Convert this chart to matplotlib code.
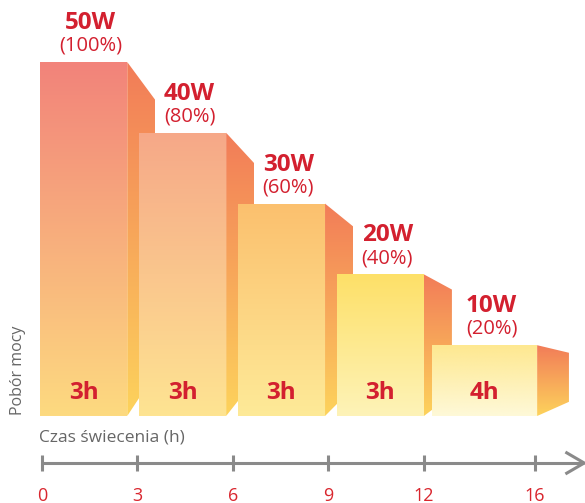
import numpy as np
import matplotlib
matplotlib.use("Agg")
import matplotlib.pyplot as plt
from matplotlib.patches import Polygon
from matplotlib.colors import to_rgb

# data
power = [50, 40, 30, 20, 10]          # W
percent = [100, 80, 60, 40, 20]       # %
hours = [3, 3, 3, 3, 4]               # lighting time per step
tick_hours = [0, 3, 6, 9, 12, 16]

front_top = ["#F2837A", "#F6A888", "#FBC06E", "#FDE068", "#FEE890"]
front_bot = ["#FDDA80", "#FEE492", "#FEEA98", "#FEF3B8", "#FEF9D8"]
side_top = "#F27C58"
side_bot = "#FDD35C"
red = "#D3202F"
gray = "#8A8A8A"

plt.rcParams["font.family"] = ["Open Sans", "DejaVu Sans"]


def xpos(h):
    # the last step is drawn slightly compressed in the original
    return h if h <= 12 else 12 + (h - 12) * 0.875


fig = plt.figure(figsize=(5.85, 5.03), dpi=100)
ax = fig.add_axes([0, 0, 1, 1])
ax.set_xlim(-1.321, 17.075)
ax.set_ylim(-12.29, 58.76)
ax.axis("off")


def grad_poly(pts, c_top, c_bot, z):
    poly = Polygon(pts, closed=True, facecolor="none", edgecolor="none", zorder=z)
    ax.add_patch(poly)
    xs = [p[0] for p in pts]
    ys = [p[1] for p in pts]
    t = np.linspace(0, 1, 256)[:, None]
    top = np.array(to_rgb(c_top))
    bot = np.array(to_rgb(c_bot))
    img = (top * (1 - t) + bot * t)[:, None, :]
    im = ax.imshow(img, extent=[min(xs), max(xs), min(ys), max(ys)],
                   aspect="auto", origin="upper", zorder=z, interpolation="bilinear")
    im.set_clip_path(poly)


for i, (w, p, d) in enumerate(zip(power, percent, hours)):
    # blocks sit on a slightly wider pitch than the time ticks
    x0 = -0.06 + 3.11 * i - (0.12 if i == 4 else 0)
    x1 = x0 + 2.74 + 0.57 * (d - 3)
    depth = 0.88 if i < 4 else 1.0
    z = 2 + i * 2
    grad_poly([(x0, 0), (x0, w), (x1, w), (x1, 0)], front_top[i], front_bot[i], z)
    grad_poly([(x1, w), (x1 + depth, w * 0.893), (x1 + depth, 1.0 + 0.1 * w), (x1, 0)],
              side_top, side_bot, z + 1)

    cx = (x0 + x1) / 2
    ax.text(cx + 0.22, w + 5.5, f"{w}W", color=red, fontsize=17.5, fontweight="bold",
            ha="center", va="center", zorder=20)
    ax.text(cx + 0.22, w + 2.3, f"({p}%)", color=red, fontsize=14.5,
            ha="center", va="center", zorder=20)
    ax.text(cx, 3.25, f"{d}h", color=red, fontsize=17.5, fontweight="bold",
            ha="center", va="center", zorder=20)

# time axis with open arrow
ax.plot([0, 17.05], [-6.64, -6.64], color=gray, lw=2.2, solid_capstyle="butt", zorder=1)
ax.plot([16.5, 17.05, 16.5], [-5.2, -6.64, -8.08], color=gray, lw=2.2,
        solid_joinstyle="miter", zorder=1)
for h in tick_hours:
    ax.plot([xpos(h), xpos(h)], [-5.5, -7.8], color=gray, lw=2.2, solid_capstyle="butt")
    ax.text(xpos(h), -11.35, str(h), color="#D9262E", fontsize=13,
            ha="center", va="center")

ax.text(-0.08, -3.0, "Czas świecenia (h)", color="#666666", fontsize=12.5,
        ha="left", va="center")
ax.text(-0.75, 6.5, "Pobór mocy", color="#666666", fontsize=11.5,
        rotation=90, ha="center", va="center")

fig.savefig("out.png", dpi=100)
